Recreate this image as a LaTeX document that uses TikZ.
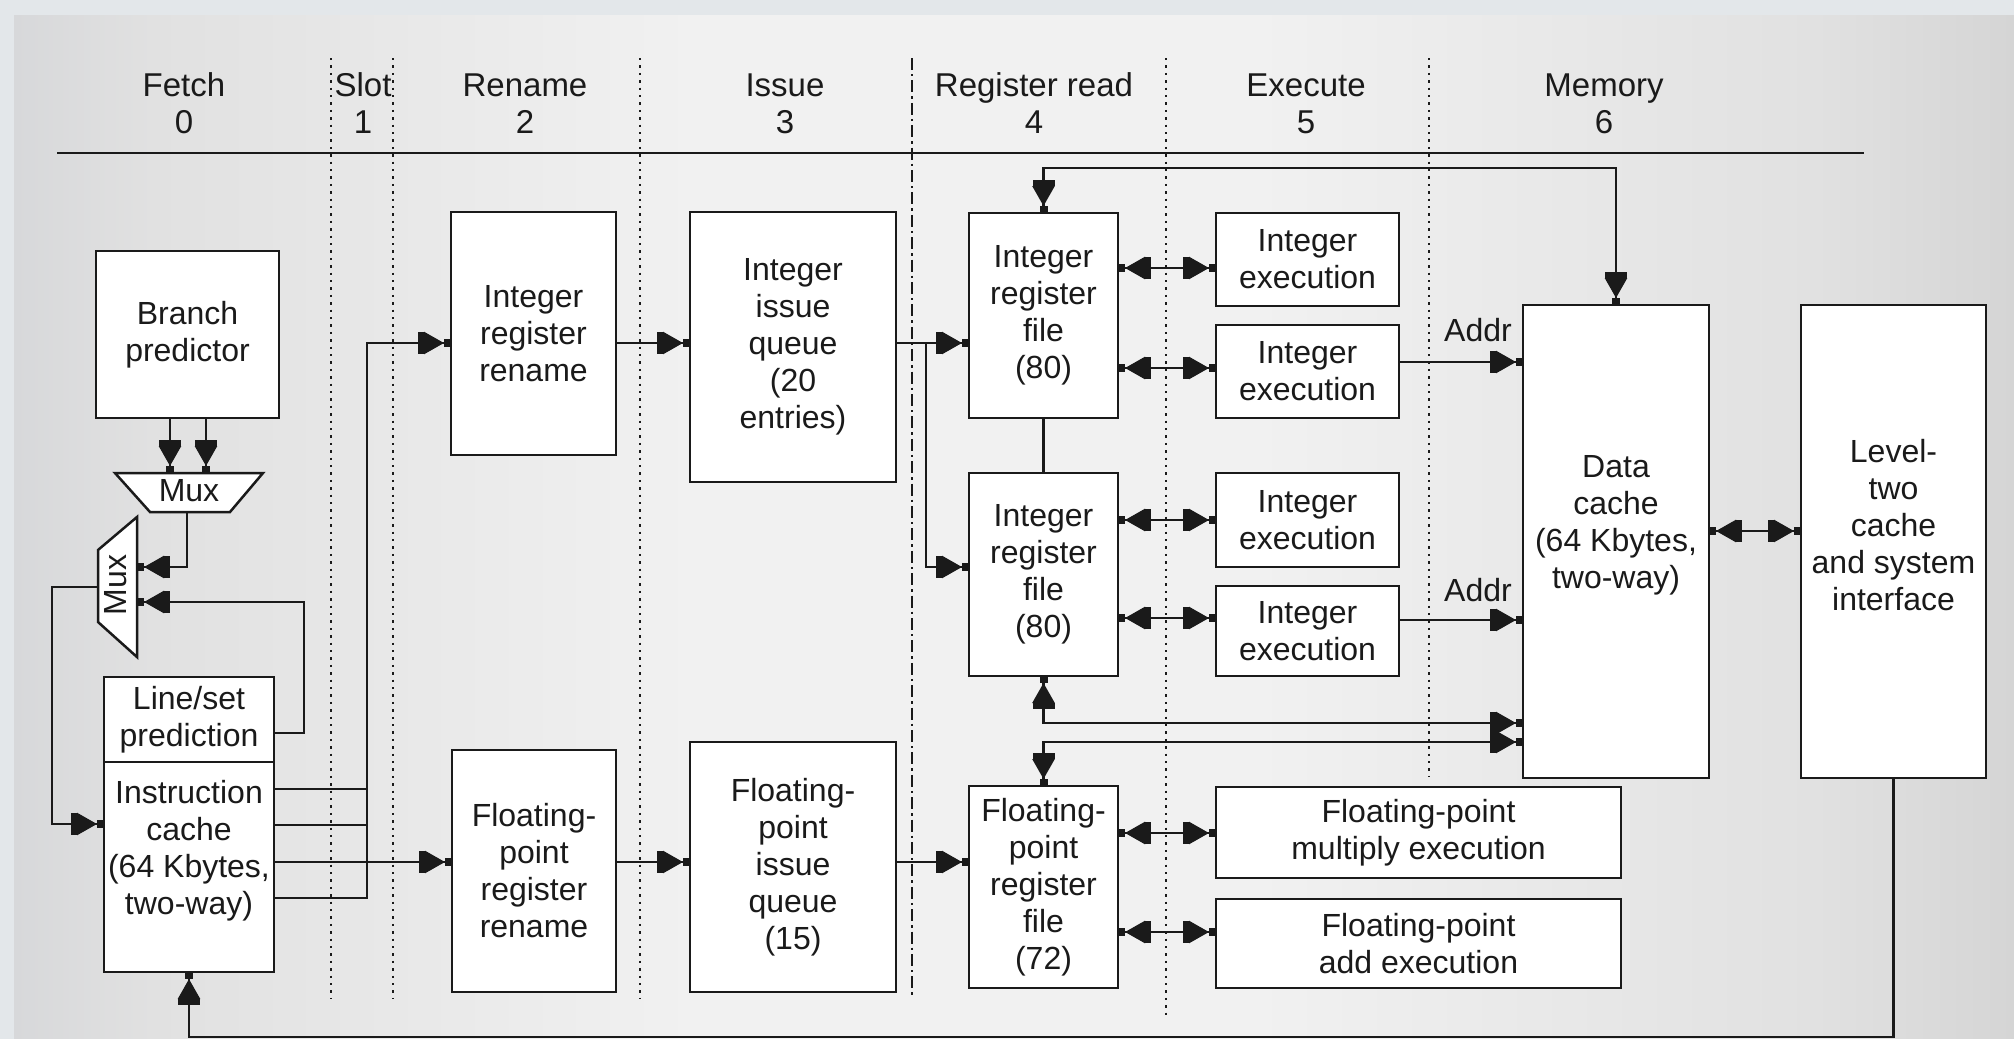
\documentclass[tikz,border=0pt]{standalone}
\usepackage{fontspec}
\setmainfont{Liberation Sans}
\usetikzlibrary{arrows.meta}

\definecolor{outerbg}{HTML}{E3E7EA}
\definecolor{ink}{HTML}{1A1A1A}
\definecolor{pA}{HTML}{D7D8DA}
\definecolor{pB}{HTML}{E1E1E1}
\definecolor{pC}{HTML}{F1F1F1}
\definecolor{pD}{HTML}{D5D5D5}

% light panel, darker towards both sides
\pgfdeclarehorizontalshading{panelshade}{100bp}{color(0bp)=(pA); color(25bp)=(pA); color(28.5bp)=(pB); color(42bp)=(pC); color(56bp)=(pC); color(70bp)=(pB); color(75bp)=(pD); color(100bp)=(pD)}

\newcommand\blkfont{\fontsize{16}{18.5}\selectfont}
\newcommand\hdrfont{\fontsize{16.5}{18.5}\selectfont}
% \Blk{name}{left}{top}{width}{height}{text}
\newcommand\Blk[6]{\node[blk, minimum width=#4*0.5pt, minimum height=#5*0.5pt] (#1) at (#2,#3) {#6};}

\begin{document}
\begin{tikzpicture}[x=0.5pt, y=-0.5pt, line width=1.25pt,
  % arrow head: back plate, wedge, short neck into the block
  hw/.tip={Rectangle[length=3pt,width=11pt] Triangle[length=10pt,width=11pt] Rectangle[length=3.5pt,width=4pt]},
  arr/.style={draw=ink, -{hw}},
  darr/.style={draw=ink, {hw}-{hw}},
  wire/.style={draw=ink},
  sepdot/.style={draw=ink, line width=1.2pt, dash pattern=on 1.2pt off 2.5pt},
  sepdd/.style={draw=ink, line width=1.2pt, dash pattern=on 6pt off 2pt on 1.2pt off 2pt},
  blk/.style={draw=ink, fill=white, inner sep=0pt, outer sep=0pt, anchor=north west, font=\blkfont, text=ink, align=center},
  lbl/.style={font=\blkfont, text=ink, align=center, inner sep=0pt},
  hdr/.style={font=\hdrfont, text=ink, align=center, inner sep=0pt}]

\useasboundingbox (0,0) rectangle (2014,1039);
\fill[outerbg] (0,0) rectangle (2014,1039);
\shade[shading=panelshade] (14,15) rectangle (2014,1039);

% pipeline stage headings
\node[hdr] (h0) at (184,103.5) {Fetch\\0};
\node[hdr] (h1) at (363,103.5) {Slot\\1};
\node[hdr] (h2) at (525,103.5) {Rename\\2};
\node[hdr] (h3) at (785,103.5) {Issue\\3};
\node[hdr] (h4) at (1034,103.5) {Register read\\4};
\node[hdr] (h5) at (1306,103.5) {Execute\\5};
\node[hdr] (h6) at (1604,103.5) {Memory\\6};
\draw[ink, line width=1.3pt] (57,153) -- (1864,153);

% stage boundaries
\draw[sepdot] (331,58) -- (331,998);
\draw[sepdot] (393,58) -- (393,998);
\draw[sepdot] (640,58) -- (640,998);
\draw[sepdd]  (912,58) -- (912,998);
\draw[sepdot] (1166,58) -- (1166,1015);
\draw[sepdot] (1429,58) -- (1429,777);

% blocks
\Blk{bp}{96}{251}{183}{167}{Branch\\predictor}
\Blk{lsp}{104}{677}{170}{85}{Line/set\\prediction}
\Blk{ic}{104}{762}{170}{210}{}
\node[lbl] (ict) at ([yshift=8pt]ic.center) {Instruction\\cache\\(64 Kbytes,\\two-way)};
\Blk{irr}{451}{212}{165}{243}{Integer\\register\\rename}
\Blk{iiq}{690}{212}{206}{270}{Integer\\issue\\queue\\(20\\entries)}
\Blk{rf1}{969}{213}{149}{205}{Integer\\register\\file\\(80)}
\Blk{rf2}{969}{473}{149}{203}{Integer\\register\\file\\(80)}
\Blk{ie1}{1216}{213}{183}{93}{Integer\\execution}
\Blk{ie2}{1216}{325}{183}{93}{Integer\\execution}
\Blk{ie3}{1216}{473}{183}{94}{Integer\\execution}
\Blk{ie4}{1216}{586}{183}{90}{Integer\\execution}
\Blk{fpr}{452}{750}{164}{242}{Floating-\\point\\register\\rename}
\Blk{fpiq}{690}{742}{206}{250}{Floating-\\point\\issue\\queue\\(15)}
\Blk{fprf}{969}{786}{149}{202}{Floating-\\point\\register\\file\\(72)}
\Blk{fpm}{1216}{787}{405}{91}{Floating-point\\multiply execution}
\Blk{fpa}{1216}{899}{405}{89}{Floating-point\\add execution}
\Blk{dc}{1523}{305}{186}{473}{}
\node[lbl] (dct) at ([yshift=8pt]dc.center) {Data\\cache\\(64 Kbytes,\\two-way)};
\Blk{l2}{1801}{305}{185}{473}{}
\node[lbl] (l2t) at ([yshift=8pt]l2.center) {Level-\\two\\cache\\and system\\interface};

% multiplexers
\draw[ink, fill=white] (115,473) -- (263,473) -- (230,512) -- (150,512) -- cycle;
\node[lbl] (hmux) at (189,491) {Mux};
\draw[ink, fill=white] (98,550) -- (137,517) -- (137,657) -- (98,622) -- cycle;
\node[lbl, rotate=90] (vmux) at (116,585) {Mux};

\coordinate (hmt1) at (170,473);
\coordinate (hmt2) at (206,473);
\coordinate (hmb)  at (187,512);
\coordinate (vmr1) at (137,567);
\coordinate (vmr2) at (137,602);
\coordinate (vml)  at (98,587);
\coordinate (lbus) at (52,587);
\coordinate (lsr)  at (304,602);

% fetch
\draw[arr] (bp.south -| hmt1) -- (hmt1);
\draw[arr] (bp.south -| hmt2) -- (hmt2);
\draw[arr] (hmb) |- (vmr1);
\draw[arr] (lsp.east |- 0,733) -| (lsr) -- (vmr2);
\draw[arr] (vml) -- (lbus) |- (ic.west |- 0,824);

% slot: instruction bus
\coordinate (ibt) at (367,343);
\coordinate (b1) at (367,789);
\coordinate (b2) at (367,825);
\coordinate (b4) at (367,898);
\draw[wire] (ic.east |- b1) -- (b1);
\draw[wire] (ic.east |- b2) -- (b2);
\draw[arr] (ic.east |- b4) -- (b4) -- (ibt) -- (irr.west |- ibt);
\draw[arr] (ic.east |- 0,862) -- (fpr.west |- 0,862);

% rename / issue
\draw[arr] (irr.east |- ibt) -- (iiq.west |- ibt);
\draw[arr] (fpr.east |- 0,862) -- (fpiq.west |- 0,862);
\coordinate (qbus) at (926,343);
\draw[arr] (iiq.east |- qbus) -- (rf1.west |- qbus);
\draw[arr] (qbus) |- (rf2.west |- 0,567);
\draw[arr] (fpiq.east |- 0,862) -- (fprf.west |- 0,862);
\draw[wire] (rf1.south) -- (rf2.north);

% register read <-> execute
\draw[darr] (rf1.east |- 0,268) -- (ie1.west |- 0,268);
\draw[darr] (rf1.east |- 0,368) -- (ie2.west |- 0,368);
\draw[darr] (rf2.east |- 0,520) -- (ie3.west |- 0,520);
\draw[darr] (rf2.east |- 0,618) -- (ie4.west |- 0,618);
\draw[darr] (fprf.east |- 0,833) -- (fpm.west |- 0,833);
\draw[darr] (fprf.east |- 0,932) -- (fpa.west |- 0,932);

% memory
\draw[arr] (ie2.east |- 0,362) -- (dc.west |- 0,362);
\node[lbl] (addr1) at (1478,330) {Addr};
\draw[arr] (ie4.east |- 0,620) -- (dc.west |- 0,620);
\node[lbl] (addr2) at (1478,590) {Addr};
\coordinate (fbt) at (1330,168);
\draw[darr] (rf1.north) |- (fbt) -| (dc.north);
\draw[darr] (rf2.south) |- (dc.west |- 0,723);
\draw[darr] (fprf.north) |- (dc.west |- 0,742);
\draw[darr] (dc.east |- 0,531) -- (l2.west |- 0,531);
\coordinate (bb) at (1000,1037);
\draw[arr] (l2.south) |- (bb) -| (ic.south);
\end{tikzpicture}
\end{document}
